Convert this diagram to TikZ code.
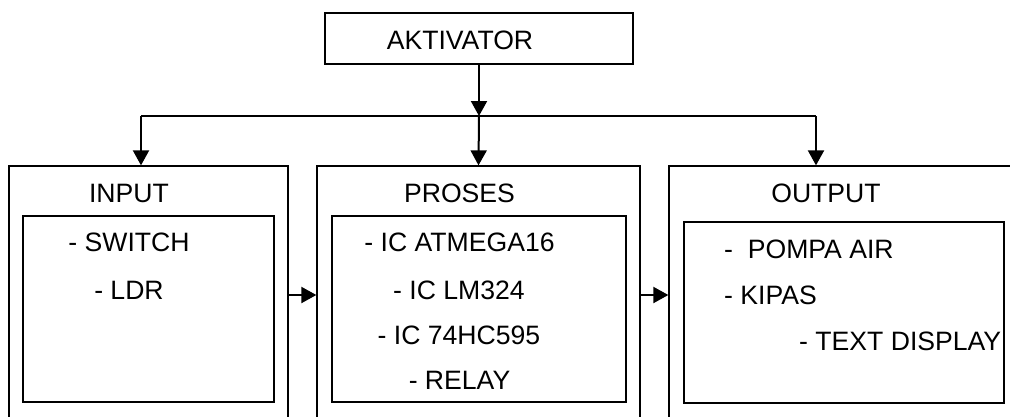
\documentclass[tikz,border=0pt]{standalone}
\usepackage{fontspec}
\setmainfont{Liberation Sans}
\usetikzlibrary{arrows.meta}
\begin{document}
\begin{tikzpicture}[x=1pt,y=-1pt,
  box/.style={draw,line width=1.3pt,inner sep=0pt,anchor=center},
  txt/.style={inner sep=0pt,font=\fontsize{26.6}{30}\selectfont},
  arr/.style={line width=2pt,-{Triangle[length=15pt,width=16pt]}},
  ln/.style={line width=1.3pt}]
\useasboundingbox (0,0) rectangle (1010,416);
\clip (0,0) rectangle (1010,416);
% boxes
\node[box,minimum width=308pt,minimum height=51pt] (akt) at (479,38.5) {};
\node[box,minimum width=279pt,minimum height=274pt] (in) at (148.5,303) {};
\node[box,minimum width=323pt,minimum height=274pt] (pr) at (478.5,303) {};
\node[box,minimum width=371pt,minimum height=274pt] (out) at (854.5,303) {};
\node[box,minimum width=251pt,minimum height=186pt] (ini) at (148.5,309) {};
\node[box,minimum width=294pt,minimum height=186pt] (pri) at (479,309) {};
\node[box,minimum width=320pt,minimum height=181pt] (outi) at (844,312.5) {};
% texts
\node[txt] (aktl) at (460,40) {AKTIVATOR};
\node[txt] (inl) at (129,193) {INPUT};
\node[txt] (prl) at (459.5,193) {PROSES};
\node[txt] (outl) at (826,193) {OUTPUT};
\node[txt] (i1) at (129,242) {- SWITCH};
\node[txt] (i2) at (129,290) {- LDR};
\node[txt] (p1) at (459.5,242) {- IC ATMEGA16};
\node[txt] (p2) at (459,290) {- IC LM324};
\node[txt] (p3) at (459,335) {- IC 74HC595};
\node[txt] (p4) at (459.5,380) {- RELAY};
\node[txt,anchor=west] (o1) at (724,249) {-\ \ POMPA AIR};
\node[txt,anchor=west] (o2) at (724,295) {- KIPAS};
\node[txt,anchor=west] (o3) at (799,341) {- TEXT DISPLAY};
% connectors
\coordinate (j) at (479,116);
\coordinate (jl) at (141,116);
\coordinate (jr) at (816,116);
\coordinate (m) at (0,295);
\draw[arr] (akt.south) -- (j);
\draw[ln] (jl) -- (jr);
\draw[arr] (j) -- (pr.north);
\draw[arr] (jl) -- (jl |- in.north);
\draw[arr] (jr) -- (jr |- out.north);
\draw[arr] (in.east |- m) -- (pr.west |- m);
\draw[arr] (pr.east |- m) -- (out.west |- m);
\end{tikzpicture}
\end{document}
